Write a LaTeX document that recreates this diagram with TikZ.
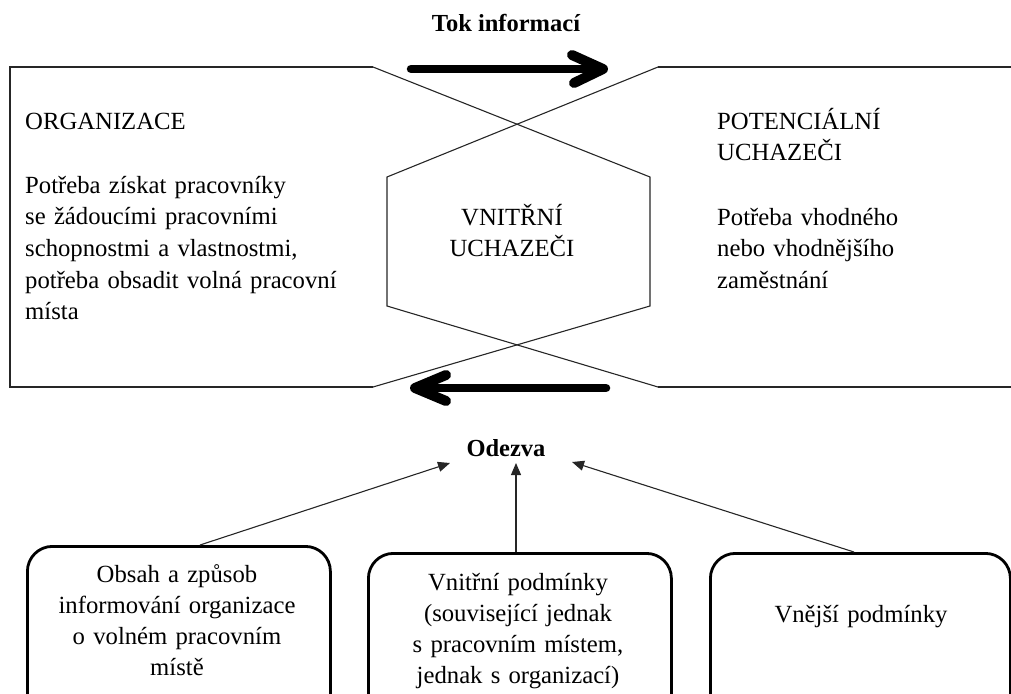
\documentclass[tikz,border=0pt]{standalone}
\usepackage{fontspec}
\setmainfont{Liberation Serif}
\usetikzlibrary{arrows.meta}
\begin{document}
\begin{tikzpicture}[x=1pt,y=-1pt,
  thinline/.style={line width=1.1pt, draw=black!85},
  fatarrow/.style={line width=8.5pt, line cap=round, line join=round},
  fathead/.style={line width=10pt, line cap=round, line join=round},
  cbox/.style={draw, line width=2.8pt, rounded corners=25pt, minimum width=303pt, minimum height=190pt, anchor=north west, inner sep=0pt},
  txt/.style={font=\fontsize{24.7}{31.7}\selectfont, inner sep=0pt, anchor=base west, align=left, text width=360pt},
  ctxt/.style={font=\fontsize{24.7}{31}\selectfont, inner sep=0pt, anchor=base, align=center, text width=300pt},
  btxt/.style={font=\bfseries\fontsize{24.5}{30}\selectfont, inner sep=0pt, anchor=base},
  resp/.style={thinline, -{Triangle[length=12pt,width=10pt]}}
]
\useasboundingbox (0,0) rectangle (1011,693);
\clip (0,0) rectangle (1011,693);

% outline shapes
\coordinate (lt) at (373,67);
\coordinate (lb) at (373,387);
\coordinate (rt) at (658,67);
\coordinate (rb) at (658,387);
\coordinate (hlt) at (387,177);
\coordinate (hlb) at (387,306);
\coordinate (hrt) at (650,177);
\coordinate (hrb) at (650,306);
\draw[thinline] (lt) -- (10,67) -- (10,387) -- (lb);
\draw[thinline] (rt) -- (1012,67);
\draw[thinline] (rb) -- (1012,387);
\draw[thinline] (lt) -- (hrt) -- (hrb) -- (lb);
\draw[thinline] (rt) -- (hlt) -- (hlb) -- (rb);

% texts
\node[btxt] (tok) at (506,32) {Tok informací};
\node[txt] (org) at (25,129) {ORGANIZACE};
\node[txt] (orgtxt) at (25,193) {Potřeba získat pracovníky\\se žádoucími pracovními\\schopnostmi a vlastnostmi,\\potřeba obsadit volná pracovní\\místa};
\node[ctxt, text width=200pt] (vnitrni) at (512,225) {VNITŘNÍ\\UCHAZEČI};
\node[txt] (pot) at (717,129) {POTENCIÁLNÍ\\UCHAZEČI};
\node[txt] (pottxt) at (717,225) {Potřeba vhodného\\nebo vhodnějšího\\zaměstnání};

% fat arrows
\coordinate (ta) at (411,69);
\coordinate (tb) at (603,69);
\draw[fatarrow] (ta) -- (tb);
\draw[fathead] ([shift={(-31,-14)}]tb) -- (tb) -- ([shift={(-29,14)}]tb);
\coordinate (ba) at (606,388);
\coordinate (bb) at (415,388);
\draw[fatarrow] (ba) -- (bb);
\draw[fathead] ([shift={(31,-13)}]bb) -- (bb) -- ([shift={(31,13)}]bb);

% response
\node[btxt] (odezva) at (506,456) {Odezva};
\node[cbox] (box1) at (26,545) {};
\node[cbox] (box2) at (367,552) {};
\node[cbox, minimum width=300pt] (box3) at (709,552) {};
\node[ctxt] (t1) at (177,582) {Obsah a způsob\\informování organizace\\o volném pracovním\\místě};
\node[ctxt] (t2) at (518,590) {Vnitřní podmínky\\(související jednak\\s pracovním místem,\\jednak s organizací)};
\node[ctxt] (t3) at (861,622) {Vnější podmínky};

\coordinate (e1) at (450,463);
\coordinate (e2) at (516,463);
\coordinate (e3) at (572,462);
\draw[resp] ([xshift=174pt]box1.north west) -- (e1);
\draw[resp] ([xshift=149pt]box2.north west) -- (e2);
\draw[resp] ([xshift=145pt]box3.north west) -- (e3);
\end{tikzpicture}
\end{document}
